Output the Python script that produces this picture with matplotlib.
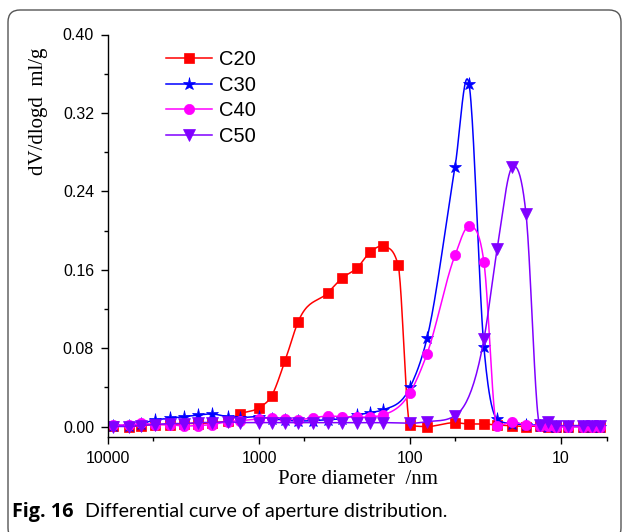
import numpy as np
import matplotlib
matplotlib.use("Agg")
import matplotlib.pyplot as plt
from matplotlib.lines import Line2D
from matplotlib.patches import FancyBboxPatch
from matplotlib.transforms import IdentityTransform
from matplotlib.ticker import FixedLocator, FixedFormatter, NullFormatter

# ---------------- data (pore diameter in nm, dV/dlogd in ml/g) ----------------
c20_d = [9270, 7260, 6050, 4880, 3890, 3140, 2535, 2050, 1604, 1336, 1000, 826, 673, 551,
         349, 282, 224, 184, 151, 120, 100, 77.2, 50.4, 40.7, 32.4, 26.5, 21.1, 17.05,
         13.8, 12.2, 10.8, 9.0, 7.15, 6.24, 5.52]
c20_v = [0.001, 0.000, 0.001, 0.002, 0.002, 0.003, 0.003, 0.004, 0.006, 0.0128, 0.0192, 0.0312,
         0.0669, 0.1068, 0.1367, 0.1514, 0.1619, 0.1776, 0.1837, 0.1650, 0.0015, 0.0, 0.0039,
         0.0026, 0.0026, 0.0015, 0.0008, 0.0, 0.0005, 0.0, 0.0, 0.0, 0.0, 0.0, 0.0]

c30_d = [9270, 7260, 6050, 4880, 3890, 3140, 2535, 2050, 1604, 1336, 1000, 826, 673, 551,
         439, 349, 282, 224, 184, 151, 100, 77.2, 50.4, 40.7, 32.4, 26.5, 21.1, 17.05,
         13.8, 12.2, 10.8, 9.0, 7.15, 6.24, 5.52]
c30_v = [0.001, 0.001, 0.003, 0.0066, 0.0084, 0.010, 0.0117, 0.0128, 0.010, 0.009, 0.010, 0.008,
         0.0065, 0.0056, 0.006, 0.007, 0.008, 0.0117, 0.0141, 0.0169, 0.040, 0.090, 0.2646,
         0.3497, 0.0807, 0.0074, 0.003, 0.002, 0.001, 0.0, 0.0, 0.0, 0.0, 0.0, 0.0]

c40_d = [9270, 7260, 6050, 4880, 3890, 3140, 2535, 2050, 1604, 1336, 1000, 826, 673, 551,
         439, 349, 282, 224, 184, 151, 100, 77.2, 50.4, 40.7, 32.4, 26.5, 21.1, 17.05,
         13.8, 12.2, 10.8, 9.0, 7.15, 6.24, 5.52]
c40_v = [0.0015, 0.0015, 0.0033, 0.002, 0.002, 0.0005, 0.001, 0.002, 0.005, 0.006, 0.0077, 0.009,
         0.0077, 0.007, 0.009, 0.0107, 0.010, 0.0094, 0.010, 0.0117, 0.0345, 0.0741, 0.1745,
         0.2041, 0.1678, 0.0005, 0.0049, 0.0015, 0.001, 0.001, 0.0, 0.0, 0.0, 0.0, 0.0]

c50_d = [9270, 7260, 6050, 4880, 3890, 3140, 2535, 2050, 1604, 1336, 1000, 826, 673, 551,
         439, 349, 282, 224, 184, 151, 100, 77.2, 50.4, 32.4, 26.5, 21.1, 17.05,
         13.8, 12.2, 10.8, 9.0, 7.15, 6.24, 5.52]
c50_v = [0.0, 0.0, 0.001, 0.002, 0.003, 0.003, 0.004, 0.004, 0.005, 0.004, 0.004, 0.004,
         0.004, 0.004, 0.004, 0.004, 0.004, 0.004, 0.004, 0.004, 0.0033, 0.0049, 0.011,
         0.0891, 0.1808, 0.2644, 0.2166, 0.002, 0.005, 0.001, 0.001, 0.001, 0.001, 0.001]

series_names = ["C20", "C30", "C40", "C50"]
x_ticks = [10000, 1000, 100, 10]
x_tick_labels = ["10000", "1000", "100", "10"]
x_minor = [5000, 500, 50, 5]
y_ticks = [0.00, 0.08, 0.16, 0.24, 0.32, 0.40]
y_minor = [0.04, 0.12, 0.20, 0.28, 0.36]

# ---------------- drawing helper: smooth connecting line (like Origin spline) ----------------
def smooth_line(xs, ys, n=24):
    u = np.log10(np.asarray(xs, float))
    y = np.asarray(ys, float)
    h = np.diff(u)
    d = np.diff(y) / h
    m = np.zeros_like(y)
    m[0], m[-1] = d[0], d[-1]
    for i in range(1, len(y) - 1):
        mi = (h[i] * d[i - 1] + h[i - 1] * d[i]) / (h[i - 1] + h[i])
        if d[i - 1] * d[i] > 0:
            lim = 3 * min(abs(d[i - 1]), abs(d[i]))
            mi = np.sign(mi) * min(abs(mi), lim)
        elif y[i] <= y[i - 1] and y[i] <= y[i + 1]:
            mi = 0.0
        m[i] = mi
    uu, yy = [], []
    t = np.linspace(0, 1, n)
    h00 = 2 * t**3 - 3 * t**2 + 1
    h10 = t**3 - 2 * t**2 + t
    h01 = -2 * t**3 + 3 * t**2
    h11 = t**3 - t**2
    for i in range(len(y) - 1):
        uu.append(u[i] + t * h[i])
        yy.append(h00 * y[i] + h10 * h[i] * m[i] + h01 * y[i + 1] + h11 * h[i] * m[i + 1])
    return 10 ** np.concatenate(uu), np.concatenate(yy)

# ---------------- figure ----------------
plt.rcParams['font.family'] = ['Liberation Sans', 'DejaVu Sans']
W, H = 624, 532
fig = plt.figure(figsize=(W / 100, H / 100), dpi=100)
fig.patch.set_facecolor('white')

ax = fig.add_axes([108 / W, 1 - 437 / H, (606.5 - 108) / W, (437 - 34.5) / H])
ax.set_xscale('log')
ax.set_xlim(10000, 5)
ax.set_ylim(-0.0107, 0.40)

styles = [
    dict(color='#ff0000', marker='s', ms=6.6),
    dict(color='#0000ff', marker='*', ms=9.5),
    dict(color='#ff00ff', marker='o', ms=7.4),
    dict(color='#8000ff', marker='v', ms=8.5),
]
data = [(c20_d, c20_v), (c30_d, c30_v), (c40_d, c40_v), (c50_d, c50_v)]

handles = []
for (xd, yd), st, name in zip(data, styles, series_names):
    sx, sy = smooth_line(xd, yd)
    ax.plot(sx, sy, color=st['color'], lw=1.1, solid_joinstyle='round')
    ax.plot(xd, yd, linestyle='none', marker=st['marker'], ms=st['ms'],
            mfc=st['color'], mec=st['color'], mew=0.5)
    handles.append(Line2D([], [], color=st['color'], lw=1.1, marker=st['marker'],
                          ms=st['ms'], mfc=st['color'], mec=st['color'], mew=0.5))

for s in ['top', 'right']:
    ax.spines[s].set_visible(False)
for s in ['left', 'bottom']:
    ax.spines[s].set_linewidth(1.0)

ax.xaxis.set_major_locator(FixedLocator(x_ticks))
ax.xaxis.set_major_formatter(FixedFormatter(x_tick_labels))
ax.xaxis.set_minor_locator(FixedLocator(x_minor))
ax.xaxis.set_minor_formatter(NullFormatter())
ax.yaxis.set_major_locator(FixedLocator(y_ticks))
ax.yaxis.set_major_formatter(FixedFormatter(["%.2f" % v for v in y_ticks]))
ax.yaxis.set_minor_locator(FixedLocator(y_minor))
ax.yaxis.set_minor_formatter(NullFormatter())
ax.tick_params(which='major', direction='out', length=5, width=1.0, labelsize=11.5, pad=5)
ax.tick_params(which='minor', direction='out', length=3, width=1.0)

ax.legend(handles, series_names, loc='upper left',
          bbox_to_anchor=(166 / W, 1 - 50 / H), bbox_transform=fig.transFigure,
          frameon=False, fontsize=14.5, handlelength=2.3, handletextpad=0.35,
          labelspacing=0.33, borderpad=0, borderaxespad=0)

fig.text(38 / W, 1 - 111 / H, "dV/dlogd  ml/g", rotation=90, ha='center', va='center',
         family=['Liberation Serif'], fontsize=15)
fig.text(358 / W, 1 - 480 / H, "Pore diameter  /nm", ha='center', va='center',
         family=['Liberation Serif'], fontsize=15)

# caption (regular part fitted to the measured extent of the reference caption)
renderer = fig.canvas.get_renderer()
t1 = fig.text(12 / W, 1 - 517 / H, "Fig. 16", ha='left', va='baseline',
              family=['Open Sans'], fontweight='bold', fontsize=14.2)
t2 = fig.text(85 / W, 1 - 517 / H, "Differential curve of aperture distribution.",
              ha='left', va='baseline', family=['Lato'], fontsize=12)
w = t2.get_window_extent(renderer).width
t2.set_fontsize(12 * (447 - 85) / w)

frame = FancyBboxPatch((8, -8), 613, 530, boxstyle="round,pad=0,rounding_size=12",
                       transform=IdentityTransform(), fill=False, ec='#555555', lw=1.0)
fig.add_artist(frame)

fig.savefig("out.png", dpi=100, facecolor='white')
